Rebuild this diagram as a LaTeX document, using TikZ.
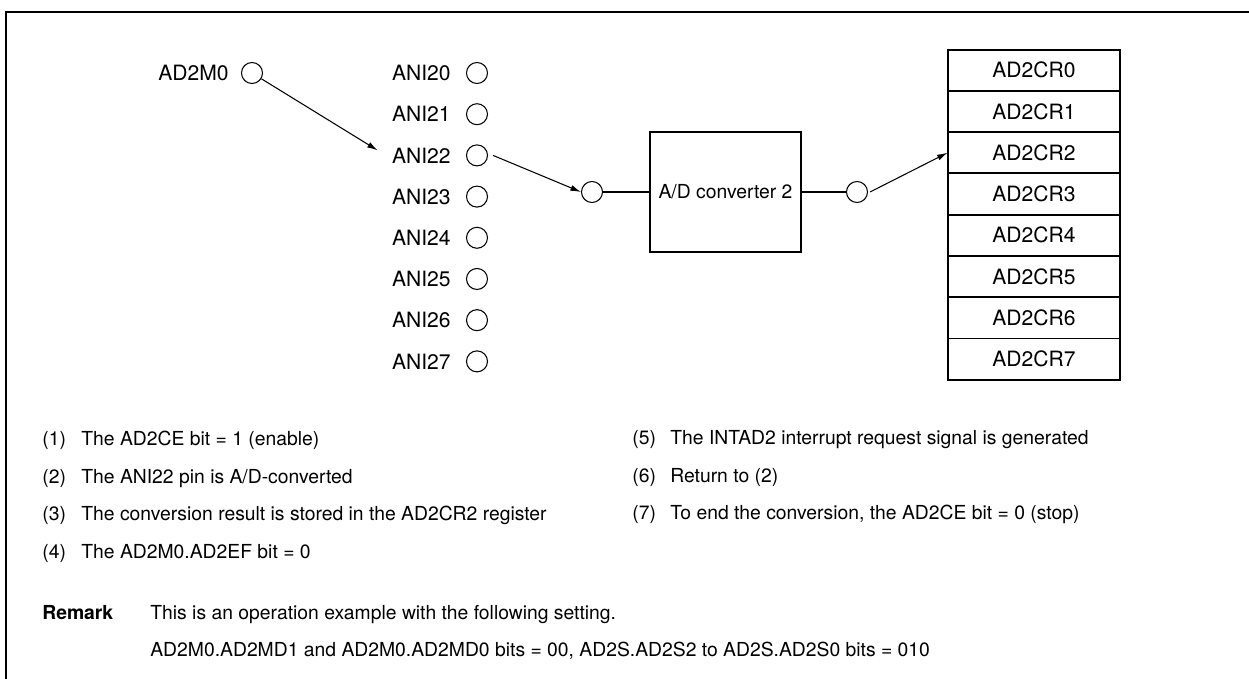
\documentclass[tikz,border=0pt]{standalone}
\usepackage{fontspec}
\setmainfont{TeX Gyre Heros}
\usepackage{tikz}
\usetikzlibrary{arrows.meta,positioning,fit}

\begin{document}
\begin{tikzpicture}[
    x=0.02cm, y=-0.02cm,
    pin/.style={circle,draw,line width=0.6pt,minimum size=0.42cm,inner sep=0pt},
    pinlabel/.style={font=\fontsize{12}{14}\selectfont,inner sep=0pt},
    conv/.style={rectangle,draw,line width=1.2pt,minimum width=3.02cm,minimum height=2.4cm,font=\fontsize{11}{13}\selectfont},
    reg/.style={rectangle,draw,line width=0.5pt,minimum width=3.44cm,minimum height=0.808cm,inner sep=0pt,font=\fontsize{12}{14}\selectfont},
    arrow/.style={-{Latex[length=6pt,width=3.4pt]},line width=0.6pt},
    wire/.style={line width=0.6pt},
    note/.style={anchor=base west,inner sep=0pt,font=\fontsize{11}{13}\selectfont},
]
\useasboundingbox (0,0) rectangle (1249,679);
% frame
\draw[line width=1.7pt] (6,679) -- (6,12) -- (1249,12);

% mode pin
\node[pin] (m0) at (252,73) {};
\node[pinlabel,left=0.24cm of m0] (m0lbl) {AD2M0};

% analog inputs
\node[pin] (p20) at (477,73) {};
\node[pin,below=0.383cm of p20] (p21) {};
\node[pin,below=0.383cm of p21] (p22) {};
\node[pin,below=0.383cm of p22] (p23) {};
\node[pin,below=0.383cm of p23] (p24) {};
\node[pin,below=0.383cm of p24] (p25) {};
\node[pin,below=0.383cm of p25] (p26) {};
\node[pin,below=0.383cm of p26] (p27) {};
\node[pinlabel,left=0.3cm of p20] (l20) {ANI20};
\node[pinlabel,left=0.3cm of p21] (l21) {ANI21};
\node[pinlabel,left=0.3cm of p22] (l22) {ANI22};
\node[pinlabel,left=0.3cm of p23] (l23) {ANI23};
\node[pinlabel,left=0.3cm of p24] (l24) {ANI24};
\node[pinlabel,left=0.3cm of p25] (l25) {ANI25};
\node[pinlabel,left=0.3cm of p26] (l26) {ANI26};
\node[pinlabel,left=0.3cm of p27] (l27) {ANI27};

% converter
\node[conv] (adc) at (725.5,192) {A/D converter 2};
\node[pin] (adin)  at (592,192) {};
\node[pin] (adout) at (857,192) {};

% result registers
\node[reg] (r0) at (1034,70.2) {AD2CR0};
\node[reg,below=0pt of r0] (r1) {AD2CR1};
\node[reg,below=0pt of r1] (r2) {AD2CR2};
\node[reg,below=0pt of r2] (r3) {AD2CR3};
\node[reg,below=0pt of r3] (r4) {AD2CR4};
\node[reg,below=0pt of r4] (r5) {AD2CR5};
\node[reg,below=0pt of r5] (r6) {AD2CR6};
\node[reg,below=0pt of r6] (r7) {AD2CR7};
\node[draw,line width=1.2pt,inner sep=0pt,fit=(r0)(r7)] (regs) {};

\draw[arrow] (m0) -- ([xshift=-0.28cm,yshift=0.1cm]l22.west);
\draw[arrow] ([xshift=0.1cm]p22.east) -- (adin.west);
\draw[wire]  (adin.east) -- (adc.west);
\draw[wire]  (adc.east) -- (adout.west);
\draw[arrow] ([xshift=0.04cm]adout.east) -- (r2.west);

% operation steps
\node[note] (n1) at (42,445) {(1)};
\node[note] (t1) at (81,445) {The AD2CE bit = 1 (enable)};
\node[note] (n2) at (42,483) {(2)};
\node[note] (t2) at (81,483) {The ANI22 pin is A/D-converted};
\node[note] (n3) at (42,520) {(3)};
\node[note] (t3) at (81,520) {The conversion result is stored in the AD2CR2 register};
\node[note] (n4) at (42,558) {(4)};
\node[note] (t4) at (81,558) {The AD2M0.AD2EF bit = 0};
\node[note] (n5) at (632,444) {(5)};
\node[note] (t5) at (670,444) {The INTAD2 interrupt request signal is generated};
\node[note] (n6) at (632,482) {(6)};
\node[note] (t6) at (670,482) {Return to (2)};
\node[note] (n7) at (632,519) {(7)};
\node[note] (t7) at (670,519) {To end the conversion, the AD2CE bit = 0 (stop)};

% remark
\node[note,font=\fontsize{11}{13}\selectfont\bfseries] (rem) at (42,619) {Remark};
\node[note] (rem1) at (150,619) {This is an operation example with the following setting.};
\node[note] (rem2) at (150,656) {AD2M0.AD2MD1 and AD2M0.AD2MD0 bits = 00, AD2S.AD2S2 to AD2S.AD2S0 bits = 010};
\end{tikzpicture}
\end{document}
